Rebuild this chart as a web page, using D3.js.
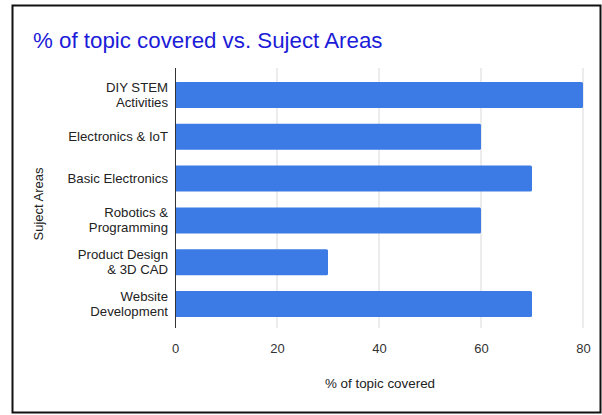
<!DOCTYPE html>
<html><head><meta charset="utf-8">
<script src="https://cdn.jsdelivr.net/npm/d3@7"></script>
<style>body{margin:0;background:#fff}svg{display:block}text{font-family:"Liberation Sans",Arial,sans-serif}</style>
</head><body>
<svg id="c" width="602" height="415"></svg>
<script>
const categories = [["DIY STEM","Activities"],["Electronics & IoT"],["Basic Electronics"],["Robotics &","Programming"],["Product Design","& 3D CAD"],["Website","Development"]];
const values = [80, 60, 70, 60, 30, 70];
const xTicks = [0, 20, 40, 60, 80];
const title = "% of topic covered vs. Suject Areas";
const xTitle = "% of topic covered";
const yTitle = "Suject Areas";

const svg = d3.select("#c");
svg.append("rect").attr("x",12.5).attr("y",5.5).attr("width",588).attr("height",407)
  .attr("fill","#fff").attr("stroke","#111").attr("stroke-width",2);

const x = d3.scaleLinear().domain([0,80]).range([175,583]);
const y = d3.scaleBand().domain(d3.range(categories.length)).range([74,325]).paddingInner(0.38).paddingOuter(0.19);

svg.append("g").selectAll("line").data(xTicks.slice(1)).join("line")
  .attr("x1",d=>x(d)).attr("x2",d=>x(d)).attr("y1",68).attr("y2",328)
  .attr("stroke","#d9d9d9").attr("stroke-width",1);

svg.append("g").selectAll("rect").data(values).join("rect")
  .attr("x",x(0)).attr("y",(d,i)=>y(i)).attr("width",d=>x(d)-x(0)).attr("height",y.bandwidth())
  .attr("rx",1.5).attr("fill","#3c7be6");

svg.append("line").attr("x1",x(0)+0.5).attr("x2",x(0)+0.5).attr("y1",68).attr("y2",328).attr("stroke","#333").attr("stroke-width",1);

const xa = d3.axisBottom(x).tickValues(xTicks).tickSize(0).tickPadding(0);
const gx = svg.append("g").attr("transform","translate(0,353)").call(xa);
gx.select(".domain").remove();
gx.selectAll("text").attr("font-size",13).attr("fill","#333").attr("dy",0).style("font-family","'Liberation Sans',Arial,sans-serif");

const gy = svg.append("g");
categories.forEach((lines,i)=>{
  const cy = y(i)+y.bandwidth()/2;
  const t = gy.append("text").attr("x",168).attr("text-anchor","end").attr("font-size",13.2).attr("fill","#222");
  const n = lines.length;
  lines.forEach((s,j)=>{
    t.append("tspan").attr("x",168).attr("y",cy + (j-(n-1)/2)*15 + 4.5).text(s);
  });
});

svg.append("text").attr("x",33).attr("y",48).attr("font-size",22.3).attr("fill","#1c1cd8").text(title);
svg.append("text").attr("x",x(40)+1).attr("y",388).attr("text-anchor","middle").attr("font-size",13.4).attr("fill","#222").text(xTitle);
svg.append("text").attr("transform",`translate(43,204) rotate(-90)`).attr("text-anchor","middle").attr("font-size",13).attr("fill","#222").text(yTitle);
</script>
</body></html>
